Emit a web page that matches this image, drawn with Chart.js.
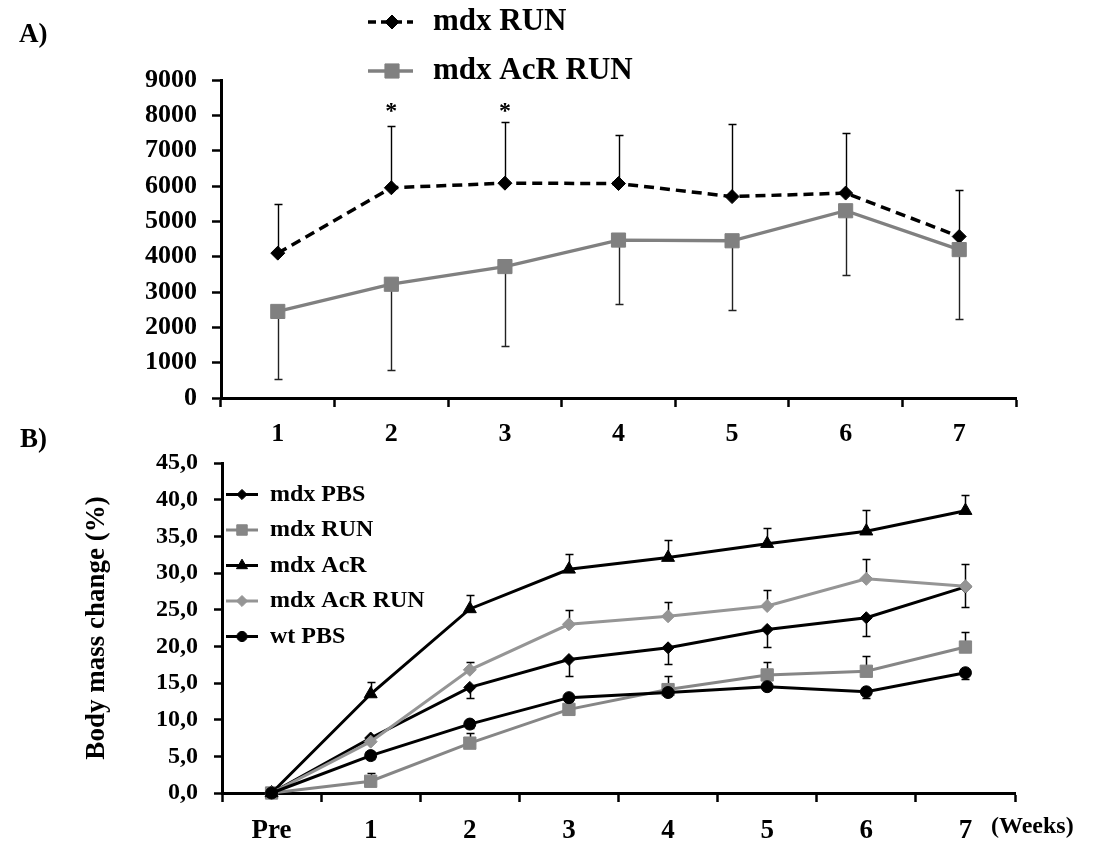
<!DOCTYPE html>
<html><head><meta charset="utf-8">
<script src="https://cdn.jsdelivr.net/npm/chart.js@4.4.1/dist/chart.umd.min.js"></script>
<style>
html,body{margin:0;padding:0;background:#fff;}
#wrap{position:relative;width:1093px;height:843px;overflow:hidden;background:#fff;}
canvas{position:absolute;left:0;top:0;}
</style></head>
<body><div id="wrap"><canvas id="cA" width="1093" height="843"></canvas><canvas id="cB" width="1093" height="843"></canvas></div>
<script>
// ---------- Panel A data ----------
const weeksA = ['1', '2', '3', '4', '5', '6', '7'];
const yTicksA = ['0', '1000', '2000', '3000', '4000', '5000', '6000', '7000', '8000', '9000'];
const runA = [4100, 5950, 6080, 6070, 5700, 5800, 4570];
const runErrA = [1400, 1750, 1720, 1380, 2050, 1700, 1310];
const acrRunA = [2450, 3220, 3720, 4470, 4450, 5300, 4200];
const acrRunErrA = [1900, 2440, 2240, 1815, 1950, 1820, 1960];
const sigA = ['', '*', '*', '', '', '', ''];

// ---------- Panel B data ----------
const weeksB = ['Pre', '1', '2', '3', '4', '5', '6', '7'];
const yTicksB = ['0,0', '5,0', '10,0', '15,0', '20,0', '25,0', '30,0', '35,0', '40,0', '45,0'];
const pbsB = [0, 7.5, 14.4, 18.2, 19.8, 22.3, 23.9, 28.1];
const pbsErrB = [0, 0.4, 1.5, 2.3, 2.2, 2.4, 2.5, 2.8];
const runB = [0, 1.6, 6.8, 11.4, 14.1, 16.1, 16.6, 19.9];
const runErrB = [0, 1.1, 1.4, 1.2, 1.8, 1.8, 2.1, 2.0];
const acrB = [0, 13.5, 25.1, 30.5, 32.1, 34.0, 35.7, 38.5];
const acrErrB = [0, 1.6, 1.9, 2.1, 2.4, 2.2, 2.9, 2.1];
const acrRunB = [0, 7.0, 16.8, 23.0, 24.1, 25.5, 29.2, 28.2];
const acrRunErrB = [0, 0.5, 1.1, 1.9, 1.9, 2.2, 2.7, 3.0];
const wtB = [0, 5.1, 9.4, 13.0, 13.7, 14.5, 13.8, 16.4];
const wtErrB = [0, 0.4, 0.6, 0.5, 0.5, 0.5, 0.9, 0.9];

const FONT = '"Liberation Serif", "Times New Roman", serif';
const GRAY1 = '#868686';
const GRAY2 = '#959595';

const errorBars = {
  id: 'errorBars',
  beforeDatasetsDraw(chart, args, opts) {
    const ctx = chart.ctx, xs = chart.scales.x, ys = chart.scales.y;
    chart.data.datasets.forEach(ds => {
      if (!ds.errors) return;
      ctx.save();
      ctx.strokeStyle = ds.errorColor || '#000';
      ctx.lineWidth = opts.lineWidth;
      ds.data.forEach((v, i) => {
        const e = ds.errors[i];
        if (!e) return;
        const x = Math.round(xs.getPixelForValue(i)) + 0.5;
        const y0 = ys.getPixelForValue(v);
        const y1 = Math.round(ys.getPixelForValue(v + ds.errorDir * e)) + 0.5;
        ctx.beginPath();
        ctx.moveTo(x, y0); ctx.lineTo(x, y1);
        ctx.moveTo(x - opts.cap, y1); ctx.lineTo(x + opts.cap, y1);
        ctx.stroke();
      });
      ctx.restore();
    });
  }
};

const customLegend = {
  id: 'customLegend',
  afterDraw(chart, args, opts) {
    const ctx = chart.ctx;
    chart.data.datasets.forEach((ds, i) => {
      const y = opts.y0 + i * opts.dy;
      ctx.save();
      ctx.strokeStyle = ds.borderColor;
      ctx.lineWidth = ds.borderWidth;
      ctx.setLineDash(opts.dash && ds.borderDash ? opts.dash : []);
      ctx.beginPath(); ctx.moveTo(opts.x0, y); ctx.lineTo(opts.x1, y); ctx.stroke();
      ctx.setLineDash([]);
      ctx.fillStyle = ds.pointBackgroundColor;
      ctx.strokeStyle = ds.pointBorderColor;
      ctx.lineWidth = 1;
      Chart.helpers.drawPoint(ctx, {pointStyle: ds.pointStyle, radius: ds.pointRadius * (opts.markScale || 1), borderWidth: 1, rotation: 0}, opts.mx, y);
      ctx.fillStyle = '#000';
      ctx.font = opts.font;
      ctx.textAlign = 'left';
      ctx.textBaseline = 'middle';
      ctx.fillText(ds.label, opts.tx, y);
      ctx.restore();
    });
  }
};

const textMarks = {
  id: 'textMarks',
  afterDraw(chart, args, opts) {
    const ctx = chart.ctx;
    ctx.save();
    ctx.fillStyle = '#000';
    ctx.textBaseline = 'middle';
    (opts.items || []).forEach(t => {
      ctx.font = t.font; ctx.textAlign = t.align || 'left';
      ctx.fillText(t.text, t.x, t.y);
    });
    if (opts.sig) {
      const xs = chart.scales.x, ys = chart.scales.y;
      ctx.font = opts.sig.font; ctx.textAlign = 'center';
      opts.sig.marks.forEach((m, i) => {
        if (m) ctx.fillText(m, xs.getPixelForValue(i), ys.getPixelForValue(opts.sig.value) + opts.sig.dy);
      });
    }
    ctx.restore();
  }
};

function axisX(size, pad, h) {
  return {
    type: 'category', offset: true,
    grid: {offset: true, drawOnChartArea: false, drawTicks: true, tickLength: 9, tickWidth: 2.5, tickColor: '#000'},
    border: {display: true, color: '#000', width: 3},
    ticks: {color: '#000', font: {family: FONT, size: size, weight: 'bold'}, padding: pad, maxRotation: 0, autoSkip: false},
    afterFit(s) { s.height = h; }
  };
}

// ---------- Chart A ----------
new Chart(document.getElementById('cA'), {
  type: 'line',
  data: {
    labels: weeksA,
    datasets: [
      {label: 'mdx RUN', data: runA, errors: runErrA, errorDir: 1, errorColor: '#000',
       borderColor: '#000', borderWidth: 3.5, borderDash: [10, 6],
       pointStyle: 'rectRot', pointRadius: 7, pointBackgroundColor: '#000', pointBorderColor: '#000', pointBorderWidth: 1,
       order: 2, clip: false, tension: 0},
      {label: 'mdx AcR RUN', data: acrRunA, errors: acrRunErrA, errorDir: -1, errorColor: '#222',
       borderColor: '#808080', borderWidth: 3.3,
       pointStyle: 'rect', pointRadius: 10, pointBackgroundColor: '#808080', pointBorderColor: '#808080', pointBorderWidth: 1,
       order: 1, clip: false, tension: 0}
    ]
  },
  options: {
    responsive: false, animation: false, events: [],
    layout: {padding: {top: 80, right: 77, bottom: 393, left: 0}},
    plugins: {
      legend: {display: false}, tooltip: {enabled: false},
      errorBars: {lineWidth: 1.4, cap: 4},
      customLegend: {x0: 368, x1: 413, mx: 392, tx: 433, y0: 22, dy: 49, font: 'bold 31px ' + FONT, dash: [8, 5], markScale: 1},
      textMarks: {
        items: [{text: 'A)', x: 19, y: 35, font: 'bold 27px ' + FONT}],
        sig: {marks: sigA, value: 8250, dy: 5, font: 'bold 24px ' + FONT}
      }
    },
    scales: {
      x: axisX(26, 12, 52),
      y: {
        min: 0, max: 9000,
        ticks: {stepSize: 1000, color: '#000', font: {family: FONT, size: 26, weight: 'bold'}, padding: 15, callback: (v, i) => yTicksA[i]},
        grid: {drawOnChartArea: false, drawTicks: true, tickLength: 9, tickWidth: 2.5, tickColor: '#000'},
        border: {display: true, color: '#000', width: 3},
        afterFit(s) { s.width = 221; }
      }
    }
  },
  plugins: [errorBars, customLegend, textMarks]
});

// ---------- Chart B ----------
function ser(label, data, errs, dir, color, style, radius, order) {
  return {label, data, errors: errs, errorDir: dir, errorColor: '#000',
    borderColor: color, borderWidth: 3, pointStyle: style, pointRadius: radius,
    pointBackgroundColor: color, pointBorderColor: color, pointBorderWidth: 1,
    order, clip: false, tension: 0};
}
new Chart(document.getElementById('cB'), {
  type: 'line',
  data: {
    labels: weeksB,
    datasets: [
      ser('mdx PBS', pbsB, pbsErrB, -1, '#000', 'rectRot', 6, 5),
      ser('mdx RUN', runB, runErrB, 1, GRAY1, 'rect', 8.7, 4),
      ser('mdx AcR', acrB, acrErrB, 1, '#000', 'triangle', 7.5, 3),
      ser('mdx AcR RUN', acrRunB, acrRunErrB, 1, GRAY2, 'rectRot', 6.5, 2),
      ser('wt PBS', wtB, wtErrB, -1, '#000', 'circle', 6, 1)
    ]
  },
  options: {
    responsive: false, animation: false, events: [],
    layout: {padding: {top: 463, right: 78, bottom: 0, left: 0}},
    plugins: {
      legend: {display: false}, tooltip: {enabled: false},
      errorBars: {lineWidth: 1.5, cap: 4},
      customLegend: {x0: 226, x1: 258, mx: 242, tx: 270, y0: 494.5, dy: 35.5, font: 'bold 24px ' + FONT, markScale: 0.85},
      textMarks: {
        items: [
          {text: 'B)', x: 20, y: 440, font: 'bold 27px ' + FONT},
          {text: '(Weeks)', x: 991, y: 827, font: 'bold 24px ' + FONT}
        ]
      }
    },
    scales: {
      x: axisX(27, 13, 50),
      y: {
        min: 0, max: 45,
        title: {display: true, text: 'Body mass change (%)', color: '#000', font: {family: FONT, size: 27, weight: 'bold'}, padding: {top: 81, bottom: 0}},
        ticks: {stepSize: 5, color: '#000', font: {family: FONT, size: 24, weight: 'bold'}, padding: 16, callback: (v, i) => yTicksB[i]},
        grid: {drawOnChartArea: false, drawTicks: true, tickLength: 8, tickWidth: 2.5, tickColor: '#000'},
        border: {display: true, color: '#000', width: 3},
        afterFit(s) { s.width = 222; }
      }
    }
  },
  plugins: [errorBars, customLegend, textMarks]
});
</script>
</body></html>
